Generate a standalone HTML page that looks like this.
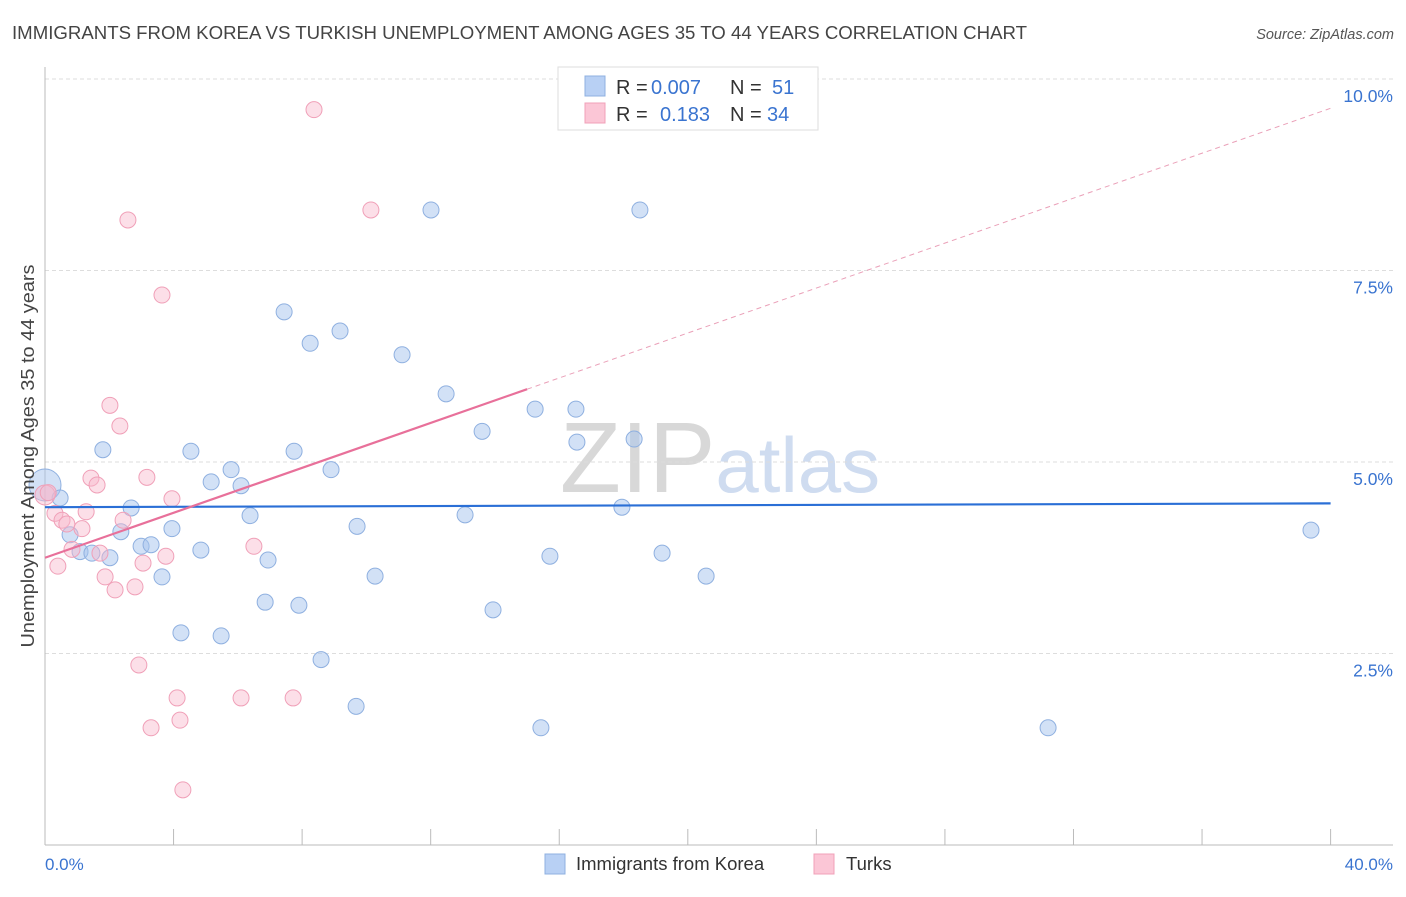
<!DOCTYPE html>
<html><head><meta charset="utf-8"><style>
body{margin:0;background:#fff;font-family:"Liberation Sans",sans-serif;}
svg text{font-family:"Liberation Sans",sans-serif;}
</style></head><body>
<svg id="chart" width="1406" height="892" xmlns="http://www.w3.org/2000/svg">
<text x="12" y="39" font-size="18" fill="#444" textLength="1015" lengthAdjust="spacingAndGlyphs">IMMIGRANTS FROM KOREA VS TURKISH UNEMPLOYMENT AMONG AGES 35 TO 44 YEARS CORRELATION CHART</text>
<text x="1394" y="39" font-size="14.5" fill="#555" text-anchor="end" font-style="italic">Source: ZipAtlas.com</text>
<text x="720" y="492" font-size="100" text-anchor="middle" fill="#ddd" font-family="Liberation Serif"><tspan fill="#d8d8d8">ZIP</tspan><tspan fill="#cfdcf0" font-family="Liberation Sans" font-size="78">atlas</tspan></text>
<g id="grid"></g>
<g id="marks"></g>
<text transform="translate(34,456) rotate(-90)" font-size="18" fill="#444" text-anchor="middle" textLength="383" lengthAdjust="spacingAndGlyphs">Unemployment Among Ages 35 to 44 years</text>
<text x="45" y="870" font-size="17" fill="#3a74d0">0.0%</text>
<text x="1393" y="870" font-size="17" fill="#3a74d0" text-anchor="end">40.0%</text>
<g>
<rect x="558" y="67" width="260" height="63" fill="#fff" stroke="#ddd"/>
<rect x="585" y="76" width="20" height="20" fill="#b8d0f4" stroke="#8fb0e0"/>
<rect x="585" y="103" width="20" height="20" fill="#fbc6d6" stroke="#f0a0b8"/>
<text x="616" y="94" font-size="20" fill="#333">R = <tspan fill="#3a74d0" x="651">0.007</tspan><tspan x="730">N = </tspan><tspan fill="#3a74d0" x="772">51</tspan></text>
<text x="616" y="121" font-size="20" fill="#333">R = <tspan fill="#3a74d0" x="660">0.183</tspan><tspan x="730">N = </tspan><tspan fill="#3a74d0" x="767">34</tspan></text>
</g>
<g>
<rect x="545" y="854" width="20" height="20" fill="#b8d0f4" stroke="#8fb0e0"/>
<text x="576" y="870" font-size="18.5" fill="#333">Immigrants from Korea</text>
<rect x="814" y="854" width="20" height="20" fill="#fbc6d6" stroke="#f0a0b8"/>
<text x="846" y="870" font-size="18.5" fill="#333">Turks</text>
</g>
</svg>
<script>
const yTicks=[2.5,5.0,7.5,10.0];
const yTickLabels=["2.5%","5.0%","7.5%","10.0%"];
const xTicks=[0,4,8,12,16,20,24,28,32,36,40];
const koreaX=[0,0.47,0.78,1.09,1.46,1.80,2.02,2.36,2.68,2.99,3.30,3.64,3.95,4.23,4.54,4.85,5.17,5.48,5.79,6.10,6.38,6.85,6.94,7.44,7.75,7.90,8.25,8.59,8.90,9.18,9.68,9.71,10.27,11.11,12.01,12.48,13.07,13.60,13.94,15.25,15.43,15.71,16.52,16.55,17.95,18.33,18.51,19.20,20.57,31.21,39.39];
const koreaY=[4.70,4.53,4.05,3.83,3.81,5.16,3.75,4.09,4.40,3.90,3.92,3.50,4.13,2.77,5.14,3.85,4.74,2.73,4.90,4.69,4.30,3.17,3.72,6.96,5.14,3.13,6.55,2.42,4.90,6.71,1.81,4.16,3.51,6.40,8.29,5.89,4.31,5.40,3.07,5.69,1.53,3.77,5.69,5.26,4.41,5.30,8.29,3.81,3.51,1.53,4.11];
const turksX=[0,0.31,0.40,0.53,0.68,0.84,1.15,1.28,1.43,1.62,1.71,1.87,2.02,2.18,2.33,2.43,2.58,2.80,2.92,3.05,3.17,3.30,3.64,3.76,3.95,4.11,4.20,4.29,6.10,6.50,7.72,8.37,10.14,0.1];
const turksY=[4.57,4.33,3.64,4.24,4.19,3.86,4.13,4.35,4.79,4.70,3.81,3.50,5.74,3.33,5.47,4.24,8.16,3.37,2.35,3.68,4.80,1.53,7.18,3.77,4.52,1.92,1.63,0.72,1.92,3.90,1.92,9.60,8.29,4.60];
const koreaTrend=[4.41,4.46];
const turksTrend=[3.75,0.1467];
const NS="http://www.w3.org/2000/svg";
const X=v=>45+v*32.14, Y=v=>845-v*76.6;
function mk(t,a,p){const e=document.createElementNS(NS,t);for(const k in a)e.setAttribute(k,a[k]);p.appendChild(e);return e;}
const grid=document.getElementById('grid'),marks=document.getElementById('marks');
yTicks.forEach((v,i)=>{
 const l=mk('line',{x1:45,x2:1393,y1:Y(v),y2:Y(v),stroke:'#ddd','stroke-dasharray':'4,3'},grid);
 
 
 const t=mk('text',{x:1393,y:Y(v)+23,'font-size':17.5,fill:'#3a74d0','text-anchor':'end'},grid);
 t.textContent=yTickLabels[i];
 
 
});
mk('line',{x1:45,x2:45,y1:67,y2:845,stroke:'#bbb'},grid);
mk('line',{x1:45,x2:1393,y1:845,y2:845,stroke:'#bbb'},grid);
xTicks.forEach(v=>{const l=mk('line',{x1:X(v),x2:X(v),y1:829,y2:845,stroke:'#bbb'},grid);
 
 });
koreaX.forEach((x,i)=>{const c=mk('circle',{cx:X(x),cy:Y(koreaY[i]),r:i==0?16:8,fill:'rgba(165,195,238,0.5)',stroke:'#8fb0e0','stroke-width':1},marks);
 
 });
turksX.forEach((x,i)=>{const c=mk('circle',{cx:X(x),cy:Y(turksY[i]),r:i==0?10:8,fill:'rgba(248,185,205,0.45)',stroke:'#f0a0b8','stroke-width':1},marks);
 
 });
const bl=mk('line',{x1:X(0),x2:X(40),y1:Y(koreaTrend[0]),y2:Y(koreaTrend[1]),stroke:'#2a6fd6','stroke-width':2.2},marks);


const tr=x=>turksTrend[0]+turksTrend[1]*x;
const pl=mk('line',{x1:X(0),x2:X(15),y1:Y(tr(0)),y2:Y(tr(15)),stroke:'#e8709a','stroke-width':2.2},marks);


const pd=mk('line',{x1:X(15),x2:X(40),y1:Y(tr(15)),y2:Y(tr(40)),stroke:'#eaa0b8','stroke-width':1,'stroke-dasharray':'5,4'},marks);


</script>
</body></html>
